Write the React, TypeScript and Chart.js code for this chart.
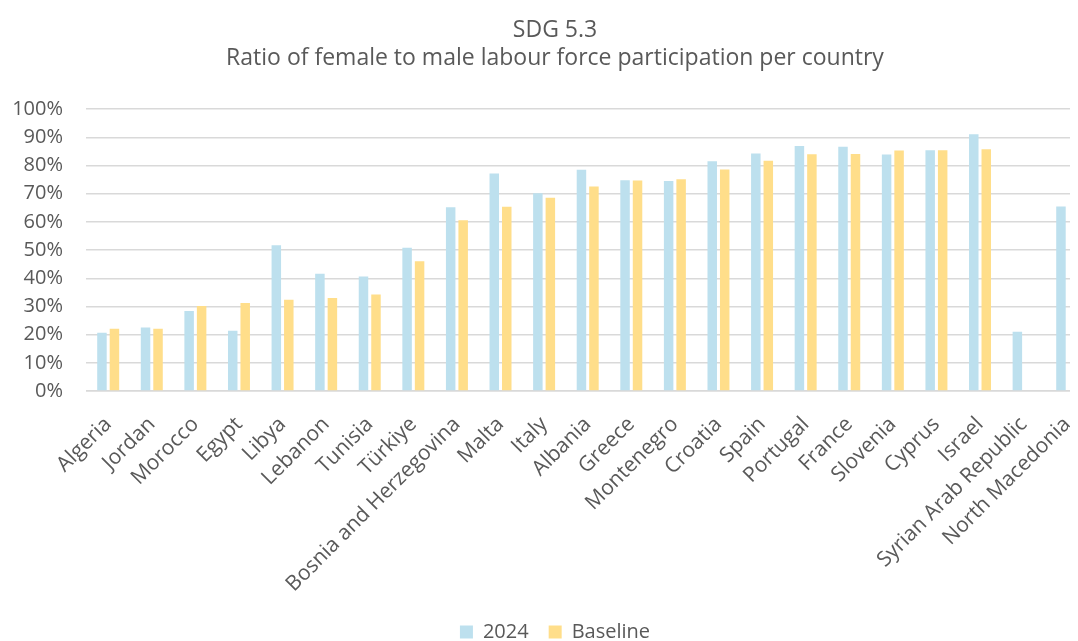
import React, { useEffect, useRef } from 'react';
import { Chart, registerables } from 'chart.js';

Chart.register(...registerables);

const categories = [
  'Algeria', 'Jordan', 'Morocco', 'Egypt', 'Libya', 'Lebanon', 'Tunisia', 'Türkiye',
  'Bosnia and Herzegovina', 'Malta', 'Italy', 'Albania', 'Greece', 'Montenegro', 'Croatia',
  'Spain', 'Portugal', 'France', 'Slovenia', 'Cyprus', 'Israel', 'Syrian Arab Republic',
  'North Macedonia',
];

const series2024 = [
  20.7, 22.5, 28.4, 21.4, 51.7, 41.6, 40.6, 50.8, 65.2, 77.2, 70.2, 78.5, 74.8, 74.5, 81.5,
  84.3, 86.9, 86.7, 83.9, 85.4, 91.1, 21.0, 65.5,
];

const seriesBaseline = [
  22.1, 22.1, 30.2, 31.2, 32.4, 33.0, 34.2, 46.0, 60.6, 65.4, 68.6, 72.6, 74.7, 75.1, 78.6,
  81.7, 84.0, 84.1, 85.3, 85.4, 85.8, null, null,
];

const seriesNames = ['2024', 'Baseline'];
const titleLines = ['SDG 5.3', 'Ratio of female to male labour force participation per country'];
const yMin = 0;
const yMax = 100;
const yStep = 10;

const BLUE = 'rgb(189,224,238)';
const YELLOW = 'rgb(255,222,138)';
const TEXT = '#595959';
const GRID = '#d9d9d9';
const FONT = '"Open Sans", "Noto Sans", sans-serif';

export default function App() {
  const ref = useRef<HTMLCanvasElement>(null);

  useEffect(() => {
    if (!ref.current) return;
    const chart = new Chart(ref.current, {
      type: 'bar',
      data: {
        labels: categories,
        datasets: [
          {
            label: seriesNames[0],
            data: series2024,
            backgroundColor: BLUE,
            categoryPercentage: 0.573,
            barPercentage: 0.76,
          },
          {
            label: seriesNames[1],
            data: seriesBaseline,
            backgroundColor: YELLOW,
            categoryPercentage: 0.573,
            barPercentage: 0.76,
          },
        ],
      },
      options: {
        responsive: false,
        animation: false,
        devicePixelRatio: 1,
        layout: { padding: 0 },
        plugins: {
          title: {
            display: true,
            text: titleLines,
            color: TEXT,
            font: { family: FONT, size: 23, weight: 'normal', lineHeight: 1.2 },
            padding: { top: 9, bottom: 37 },
          },
          legend: {
            position: 'bottom',
            labels: {
              boxWidth: 13,
              boxHeight: 13,
              padding: 20,
              color: TEXT,
              font: { family: FONT, size: 20 },
            },
          },
          tooltip: { enabled: false },
        },
        scales: {
          x: {
            grid: { display: false, drawTicks: false },
            border: { display: true, color: GRID, width: 1.5 },
            ticks: {
              minRotation: 45,
              maxRotation: 45,
              autoSkip: false,
              padding: 21,
              color: TEXT,
              font: { family: FONT, size: 21 },
            },
            afterFit: (s: any) => {
              s.height = 211;
              s.paddingLeft = 0;
              s.paddingRight = 0;
            },
          },
          y: {
            min: yMin,
            max: yMax,
            ticks: {
              stepSize: yStep,
              padding: 23.4,
              color: TEXT,
              font: { family: FONT, size: 20 },
              callback: (v: any) => `${v}%`,
            },
            grid: { color: GRID, lineWidth: 1.5, drawTicks: false },
            border: { display: false },
            afterFit: (s: any) => {
              s.width = 78.4;
              s.paddingTop = 0;
              s.paddingBottom = 0;
            },
          },
          yRight: {
            position: 'right',
            display: true,
            grid: { display: false, drawTicks: false },
            border: { display: false },
            ticks: { display: false },
            afterFit: (s: any) => {
              s.width = 13;
            },
          },
        },
      },
    });
    return () => chart.destroy();
  }, []);

  return (
    <div style={{ width: 1070, height: 633, overflow: 'hidden' }}>
      <canvas ref={ref} width={1094} height={644} style={{ display: 'block', width: 1094, height: 644 }} />
    </div>
  );
}
